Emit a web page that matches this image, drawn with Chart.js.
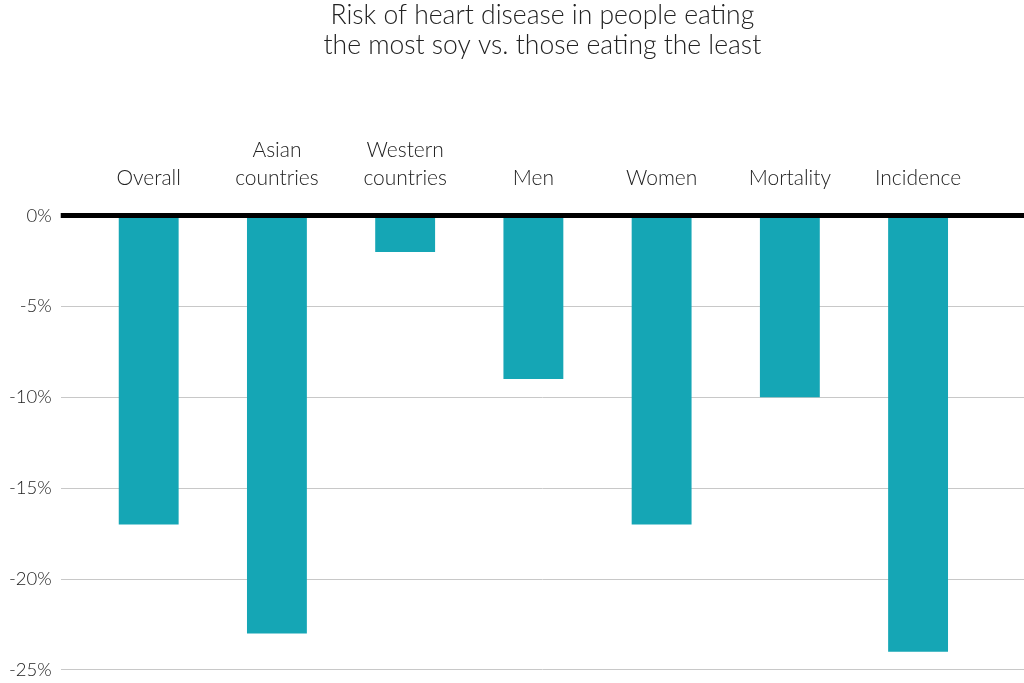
<!DOCTYPE html>
<html>
<head>
<meta charset="utf-8">
<script src="https://cdn.jsdelivr.net/npm/chart.js@4"></script>
<style>
  html, body { margin: 0; padding: 0; background: #fff; overflow: hidden; }
  #wrap { width: 1024px; height: 690px; position: relative; }
</style>
</head>
<body>
<div id="wrap"><canvas id="grafico"></canvas></div>
<script>
// dados
const categorias = [
  'Overall',
  ['Asian', 'countries'],
  ['Western', 'countries'],
  'Men',
  'Women',
  'Mortality',
  'Incidence'
];
const risco = [-17, -23, -2, -9, -17, -10, -24];
const ticksY = [0, -5, -10, -15, -20, -25];
const titulo = ['Risk of heart disease in people eating', 'the most soy vs. those eating the least'];

const fonte = "'Lato', 'Open Sans', sans-serif";

// linha preta do zero, desenhada por cima das barras
const linhaZero = {
  id: 'linhaZero',
  afterDatasetsDraw(chart) {
    const { ctx, chartArea } = chart;
    const y = chart.scales.y.getPixelForValue(0);
    ctx.save();
    ctx.strokeStyle = '#000';
    ctx.lineWidth = 5;
    ctx.beginPath();
    ctx.moveTo(chartArea.left, y);
    ctx.lineTo(chartArea.right, y);
    ctx.stroke();
    ctx.restore();
  }
};

new Chart(document.getElementById('grafico'), {
  type: 'bar',
  data: {
    datasets: [{
      data: risco.map((v, i) => ({ x: i, y: v })),
      backgroundColor: '#15a6b5',
      borderWidth: 0,
      categoryPercentage: 1,
      barPercentage: 0.467
    }]
  },
  options: {
    responsive: true,
    maintainAspectRatio: false,
    animation: false,
    layout: { padding: 0 },
    plugins: {
      legend: { display: false },
      tooltip: { enabled: false },
      title: {
        display: true,
        text: titulo,
        fullSize: false,
        color: '#222',
        font: { family: fonte, size: 26.5, weight: '300', lineHeight: 1.15 },
        padding: { top: 0, bottom: 60 }
      }
    },
    scales: {
      x: {
        type: 'linear',
        position: 'top',
        offset: false,
        min: -0.686,
        max: 6.826,
        grid: { display: false },
        border: { display: false },
        afterBuildTicks: scale => { scale.ticks = categorias.map((c, i) => ({ value: i })); },
        ticks: {
          autoSkip: false,
          maxRotation: 0,
          padding: 16,
          color: '#222',
          font: { family: fonte, size: 21, weight: '300', lineHeight: 1.3 },
          callback: v => categorias[v]
        }
      },
      y: {
        min: -25,
        max: 0,
        afterBuildTicks: scale => { scale.ticks = ticksY.map(v => ({ value: v })); },
        border: { display: false },
        grid: { color: '#c8c8c8', lineWidth: 1, drawTicks: false },
        ticks: {
          padding: 9,
          color: '#222',
          font: { family: fonte, size: 18.5, weight: '300' },
          callback: v => v + '%'
        }
      }
    }
  },
  plugins: [linhaZero]
});
</script>
</body>
</html>
